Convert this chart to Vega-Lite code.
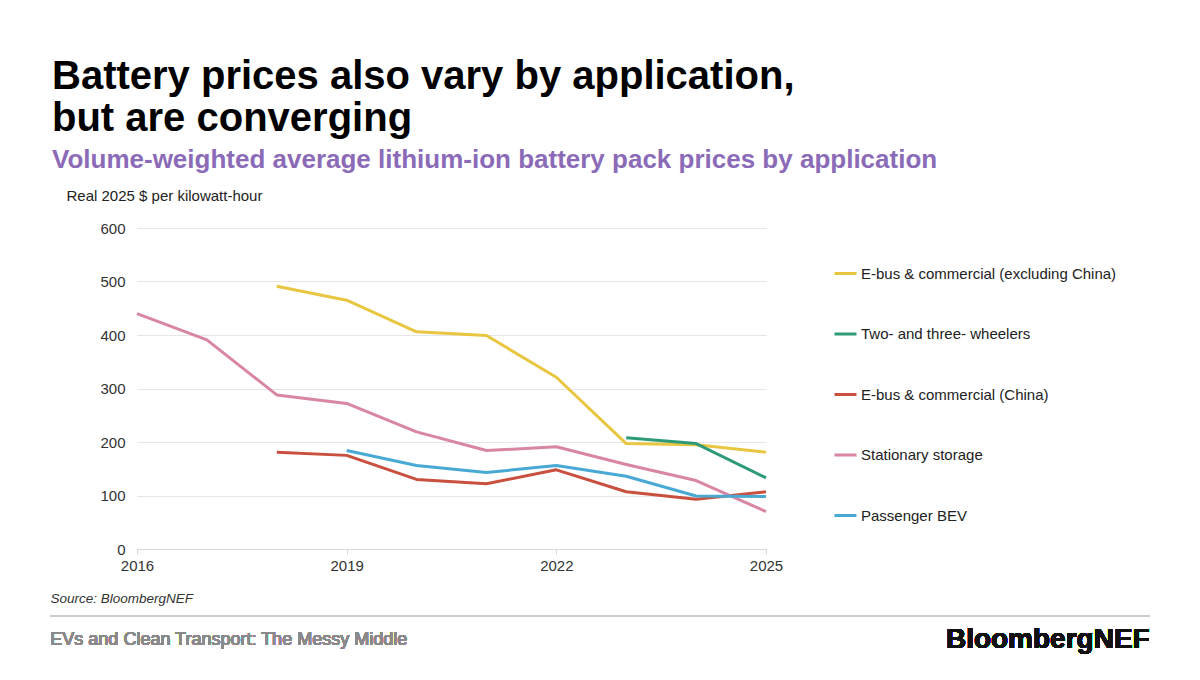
{
  "$schema": "https://vega.github.io/schema/vega-lite/v6.json",
  "width": 629,
  "height": 321,
  "autosize": {"type": "none"},
  "padding": {"left": 137, "top": 228, "right": 434, "bottom": 131},
  "background": "white",
  "config": {
    "font": "Liberation Sans",
    "view": {"stroke": null}
  },
  "title": {
    "text": ["Battery prices also vary by application,", "but are converging"],
    "subtitle": "Volume-weighted average lithium-ion battery pack prices by application",
    "anchor": "start",
    "frame": "group",
    "dx": -85,
    "offset": 15,
    "fontSize": 40,
    "fontWeight": "bold",
    "color": "#000000",
    "lineHeight": 42,
    "subtitleFontSize": 26,
    "subtitleFontWeight": "bold",
    "subtitleColor": "#8B6BB8",
    "subtitlePadding": 8,
    "font": "Liberation Sans",
    "subtitleFont": "Liberation Sans"
  },
  "data": {
    "values": [
      {"series": "E-bus & commercial (excluding China)", "year": 2018, "price": 491},
      {"series": "E-bus & commercial (excluding China)", "year": 2019, "price": 465},
      {"series": "E-bus & commercial (excluding China)", "year": 2020, "price": 406},
      {"series": "E-bus & commercial (excluding China)", "year": 2021, "price": 399},
      {"series": "E-bus & commercial (excluding China)", "year": 2022, "price": 321},
      {"series": "E-bus & commercial (excluding China)", "year": 2023, "price": 197},
      {"series": "E-bus & commercial (excluding China)", "year": 2024, "price": 195},
      {"series": "E-bus & commercial (excluding China)", "year": 2025, "price": 181},
      {"series": "Two- and three- wheelers", "year": 2023, "price": 208},
      {"series": "Two- and three- wheelers", "year": 2024, "price": 197},
      {"series": "Two- and three- wheelers", "year": 2025, "price": 133},
      {"series": "E-bus & commercial (China)", "year": 2018, "price": 181},
      {"series": "E-bus & commercial (China)", "year": 2019, "price": 175},
      {"series": "E-bus & commercial (China)", "year": 2020, "price": 130},
      {"series": "E-bus & commercial (China)", "year": 2021, "price": 122},
      {"series": "E-bus & commercial (China)", "year": 2022, "price": 148},
      {"series": "E-bus & commercial (China)", "year": 2023, "price": 107},
      {"series": "E-bus & commercial (China)", "year": 2024, "price": 93},
      {"series": "E-bus & commercial (China)", "year": 2025, "price": 107},
      {"series": "Stationary storage", "year": 2016, "price": 440},
      {"series": "Stationary storage", "year": 2017, "price": 391},
      {"series": "Stationary storage", "year": 2018, "price": 288},
      {"series": "Stationary storage", "year": 2019, "price": 272},
      {"series": "Stationary storage", "year": 2020, "price": 219},
      {"series": "Stationary storage", "year": 2021, "price": 184},
      {"series": "Stationary storage", "year": 2022, "price": 191},
      {"series": "Stationary storage", "year": 2023, "price": 158},
      {"series": "Stationary storage", "year": 2024, "price": 128},
      {"series": "Stationary storage", "year": 2025, "price": 70},
      {"series": "Passenger BEV", "year": 2019, "price": 184},
      {"series": "Passenger BEV", "year": 2020, "price": 156},
      {"series": "Passenger BEV", "year": 2021, "price": 143},
      {"series": "Passenger BEV", "year": 2022, "price": 156},
      {"series": "Passenger BEV", "year": 2023, "price": 136},
      {"series": "Passenger BEV", "year": 2024, "price": 99},
      {"series": "Passenger BEV", "year": 2025, "price": 98}
    ]
  },
  "layer": [
    {
      "mark": {"type": "line", "strokeWidth": 3, "strokeJoin": "round"},
      "encoding": {
        "x": {
          "field": "year",
          "type": "quantitative",
          "scale": {"domain": [2016, 2025], "nice": false, "zero": false},
          "axis": {
            "values": [2016, 2019, 2022, 2025],
            "format": "d",
            "grid": false,
            "labelFlush": false,
            "domainColor": "#d9d9d9",
            "tickColor": "#d9d9d9",
            "tickSize": 5,
            "labelFontSize": 15,
            "labelColor": "#333333",
            "labelPadding": 4,
            "title": "Source: BloombergNEF",
            "titleFontSize": 13.5,
            "titleFontStyle": "italic",
            "titleFontWeight": "normal",
            "titleColor": "#333333",
            "titleAnchor": "start",
            "titleAlign": "left",
            "titleBaseline": "middle",
            "titleX": -87,
            "titleY": 49
          }
        },
        "y": {
          "field": "price",
          "type": "quantitative",
          "scale": {"domain": [0, 600], "nice": false},
          "axis": {
            "values": [0, 100, 200, 300, 400, 500, 600],
            "domain": false,
            "ticks": false,
            "gridColor": "#e6e6e6",
            "labelFontSize": 15,
            "labelColor": "#333333",
            "labelPadding": 12,
            "title": "Real 2025 $ per kilowatt-hour",
            "titleAngle": 0,
            "titleFontSize": 15,
            "titleFontWeight": "normal",
            "titleColor": "#222222",
            "titleAlign": "left",
            "titleBaseline": "middle",
            "titleX": -71,
            "titleY": -33
          }
        },
        "color": {
          "field": "series",
          "type": "nominal",
          "scale": {
            "domain": [
              "E-bus & commercial (excluding China)",
              "Two- and three- wheelers",
              "E-bus & commercial (China)",
              "Stationary storage",
              "Passenger BEV"
            ],
            "range": ["#E8C640", "#2E9A78", "#C9503E", "#D886A3", "#49A9D5"]
          },
          "legend": {
            "orient": "none",
            "legendX": 696,
            "legendY": 33,
            "title": null,
            "symbolType": "stroke",
            "symbolSize": 484,
            "symbolStrokeWidth": 3,
            "labelFontSize": 15,
            "labelLimit": 400,
            "labelColor": "#222222",
            "labelOffset": 3,
            "rowPadding": 39.5
          }
        }
      }
    },
    {
      "mark": {"type": "rule", "color": "#cccccc", "strokeWidth": 1.5},
      "encoding": {
        "x": {"datum": 2014.76, "type": "quantitative"},
        "x2": {"datum": 2030.49},
        "y": {"datum": -125, "type": "quantitative"}
      }
    },
    {
      "mark": {"type": "text", "align": "left", "baseline": "middle", "fontSize": 18, "color": "#8a8a8a"},
      "encoding": {
        "x": {"datum": 2014.76, "type": "quantitative"},
        "y": {"datum": -170, "type": "quantitative"},
        "text": {"value": "EVs and Clean Transport: The Messy Middle"}
      }
    },
    {
      "mark": {"type": "text", "align": "right", "baseline": "middle", "fontSize": 28, "fontWeight": "bold", "color": "#111111", "letterSpacing": -0.5},
      "encoding": {
        "x": {"datum": 2030.49, "type": "quantitative"},
        "y": {"datum": -170, "type": "quantitative"},
        "text": {"value": "BloombergNEF"}
      }
    }
  ]
}
